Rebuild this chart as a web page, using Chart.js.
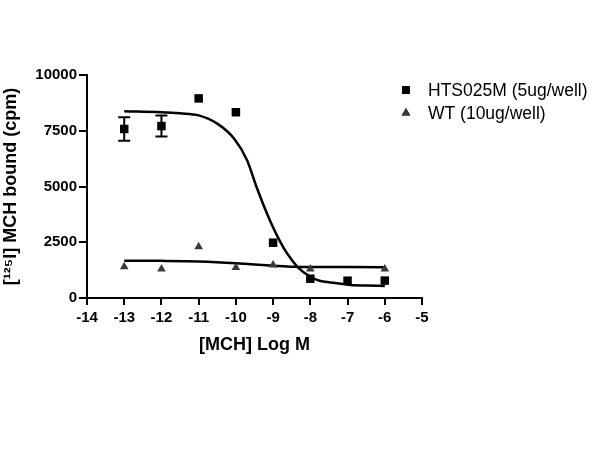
<!DOCTYPE html>
<html>
<head>
<meta charset="utf-8">
<script src="https://cdn.jsdelivr.net/npm/chart.js@4.4.1/dist/chart.umd.min.js"></script>
<style>
  html, body { margin: 0; padding: 0; background: #fff; }
  #wrap { width: 600px; height: 450px; }
</style>
</head>
<body>
<div id="wrap"><canvas id="myChart" width="600" height="450"></canvas></div>
<script>
'use strict';

// log concentrations of MCH
const logDose = [-13, -12, -11, -10, -9, -8, -7, -6];
// HTS025M (5ug/well) means and SEM
const htsMean = [7580, 7710, 8950, 8330, 2480, 865, 775, 780];
const htsErr = [525, 470, 0, 0, 0, 0, 0, 0];
// WT (10ug/well) means
const wtMean = [1400, 1300, 2300, 1370, 1480, 1300, null, 1300];

// fitted curves
const htsFitX = [-13, -12, -11.5, -11, -10.5, -10.05, -9.7, -9.43, -9.07, -8.71, -8.53, -8.35, -8, -7.73, -7.46, -6.92, -6.5, -6];
const htsFitY = [8375, 8330, 8280, 8190, 7820, 7150, 6180, 4910, 3420, 2225, 1780, 1400, 955, 760, 700, 585, 560, 540];
const wtFitX = [-13, -12, -11, -10, -9.6, -9, -8.45, -8, -7, -6];
const wtFitY = [1670, 1665, 1640, 1560, 1510, 1450, 1400, 1390, 1385, 1380];

const xTicks = [-14, -5];
const yTicks = [0, 10000];

const legendItems = [
    { text: 'HTS025M (5ug/well)', style: 'rect', color: '#000' },
    { text: 'WT (10ug/well)', style: 'triangle', color: '#3a3a3a' }
];

const toPoints = function (xs, ys) {
    const pts = [];
    for (let i = 0; i < xs.length; i++) {
        if (ys[i] !== null) pts.push({ x: xs[i], y: ys[i] });
    }
    return pts;
};

const errorBars = {
    id: 'errorBars',
    afterDatasetsDraw(chart) {
        const ctx = chart.ctx;
        const xs = chart.scales.x;
        const ys = chart.scales.y;
        ctx.save();
        ctx.strokeStyle = '#000';
        ctx.lineWidth = 2;
        for (let i = 0; i < logDose.length; i++) {
            if (!htsErr[i]) continue;
            const px = xs.getPixelForValue(logDose[i]);
            const top = ys.getPixelForValue(htsMean[i] + htsErr[i]);
            const bot = ys.getPixelForValue(htsMean[i] - htsErr[i]);
            ctx.beginPath();
            ctx.moveTo(px, top); ctx.lineTo(px, bot);
            ctx.moveTo(px - 6, top); ctx.lineTo(px + 6, top);
            ctx.moveTo(px - 6, bot); ctx.lineTo(px + 6, bot);
            ctx.stroke();
        }
        ctx.restore();
    }
};

const sideLegend = {
    id: 'sideLegend',
    afterDraw(chart) {
        const ctx = chart.ctx;
        ctx.save();
        ctx.font = '17.5px "Liberation Sans", Arial, sans-serif';
        ctx.textBaseline = 'middle';
        ctx.fillStyle = '#000';
        legendItems.forEach(function (item, i) {
            const y = 90 + i * 23;
            Chart.helpers.drawPoint(ctx, {
                pointStyle: item.style, radius: item.style === 'rect' ? 5.5 : 5,
                rotation: 0, borderWidth: 0
            }, 406, y);
            ctx.fillStyle = item.color;
            ctx.fill();
            ctx.fillStyle = '#000';
            ctx.fillText(item.text, 428, y + 1);
        });
        ctx.restore();
    }
};

const tickFont = { family: '"Liberation Sans", Arial, sans-serif', size: 15, weight: 'bold' };

const ctx = document.getElementById('myChart').getContext('2d');
const myChart = new Chart(ctx, {
    type: 'scatter',
    data: {
        datasets: [{
            label: legendItems[0].text,
            data: toPoints(logDose, htsMean),
            pointStyle: 'rect',
            pointRadius: 6,
            pointHoverRadius: 6,
            backgroundColor: '#000',
            borderColor: '#000',
            borderWidth: 0
        }, {
            label: legendItems[1].text,
            data: toPoints(logDose, wtMean),
            pointStyle: 'triangle',
            pointRadius: 5,
            pointHoverRadius: 5,
            backgroundColor: '#3a3a3a',
            borderColor: '#3a3a3a',
            borderWidth: 0
        }, {
            label: 'HTS fit',
            data: toPoints(htsFitX, htsFitY),
            showLine: true,
            pointRadius: 0,
            borderColor: '#000',
            borderWidth: 2.5,
            cubicInterpolationMode: 'monotone'
        }, {
            label: 'WT fit',
            data: toPoints(wtFitX, wtFitY),
            showLine: true,
            pointRadius: 0,
            borderColor: '#000',
            borderWidth: 2.5,
            cubicInterpolationMode: 'monotone'
        }]
    },
    options: {
        responsive: false,
        animation: false,
        layout: { padding: { left: 0, top: 75, right: 178, bottom: 90 } },
        plugins: {
            legend: { display: false },
            tooltip: { enabled: false }
        },
        scales: {
            x: {
                type: 'linear',
                min: xTicks[0],
                max: xTicks[1],
                ticks: { stepSize: 1, color: '#000', font: tickFont, padding: 4, maxRotation: 0 },
                grid: { drawOnChartArea: false, drawTicks: true, tickLength: 7, color: '#000', lineWidth: 2 },
                border: { color: '#000', width: 2 },
                title: {
                    display: true,
                    text: '[MCH] Log M',
                    color: '#000',
                    font: { family: '"Liberation Sans", Arial, sans-serif', size: 18, weight: 'bold' },
                    padding: { top: 3 }
                },
                afterFit(scale) { scale.height = 62; }
            },
            y: {
                min: yTicks[0],
                max: yTicks[1],
                ticks: {
                    stepSize: 2500, color: '#000', font: tickFont, padding: 2,
                    callback: function (v) { return String(v); }
                },
                grid: { drawOnChartArea: false, drawTicks: true, tickLength: 8, color: '#000', lineWidth: 2 },
                border: { color: '#000', width: 2 },
                title: {
                    display: true,
                    text: '[¹²⁵I] MCH bound (cpm)',
                    color: '#000',
                    font: { family: '"Liberation Sans", Arial, sans-serif', size: 18, weight: 'bold' },
                    padding: { top: 0, bottom: 0 }
                },
                afterFit(scale) { scale.width = 87; }
            }
        }
    },
    plugins: [errorBars, sideLegend]
});
</script>
</body>
</html>
